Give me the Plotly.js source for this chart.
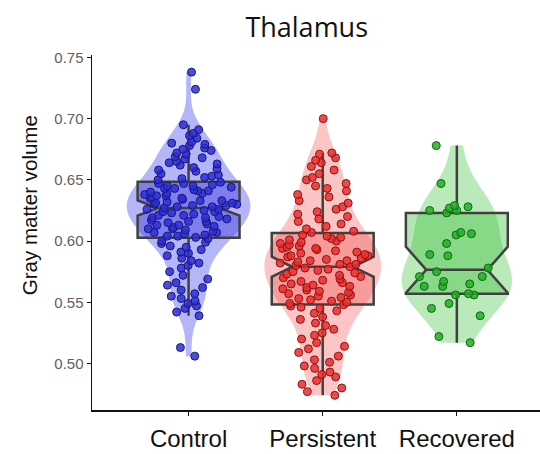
<!DOCTYPE html>
<html>
<head>
<meta charset="utf-8">
<script src="https://cdn.plot.ly/plotly-3.0.1.min.js"></script>
<style>html,body{margin:0;padding:0;background:#fff;}#chart{width:540px;height:454px;}</style>
</head>
<body>
<div id="chart"></div>
<script>
// Categories
const groups = ["Control", "Persistent", "Recovered"];

// Gray matter volume values
const control = [
  0.738, 0.724,
  0.695, 0.691, 0.688, 0.686, 0.684, 0.681, 0.680, 0.679, 0.678, 0.676, 0.675, 0.674, 0.672, 0.671,
  0.669, 0.668, 0.667, 0.665, 0.664, 0.663, 0.662, 0.660, 0.659, 0.658, 0.657, 0.655, 0.654, 0.653,
  0.652, 0.651, 0.650,
  0.648, 0.647, 0.647, 0.646, 0.645, 0.645, 0.644, 0.643, 0.643, 0.642, 0.641, 0.641, 0.640, 0.639,
  0.639, 0.638, 0.637, 0.637, 0.636, 0.635, 0.635, 0.634, 0.633, 0.633, 0.632, 0.631, 0.631, 0.630,
  0.630, 0.629, 0.629, 0.628, 0.628,
  0.627,
  0.626, 0.626, 0.625, 0.624, 0.624, 0.623, 0.622, 0.621, 0.621, 0.620, 0.619, 0.619, 0.618, 0.617,
  0.616, 0.616, 0.615, 0.614, 0.613, 0.613, 0.612, 0.611, 0.610, 0.610, 0.609, 0.608, 0.607, 0.607,
  0.606, 0.605, 0.604, 0.604, 0.603,
  0.602, 0.600, 0.599, 0.598, 0.596, 0.595, 0.593, 0.591, 0.590, 0.588, 0.586, 0.584, 0.582, 0.580,
  0.578, 0.575, 0.572, 0.569, 0.566, 0.564, 0.562, 0.560, 0.557, 0.555, 0.553, 0.551, 0.549, 0.547,
  0.545, 0.542, 0.539,
  0.513, 0.506
];

const persistent = [
  0.700,
  0.672, 0.671, 0.668, 0.666, 0.664, 0.661, 0.658, 0.655, 0.652, 0.650, 0.647, 0.645, 0.643, 0.641,
  0.638, 0.636, 0.633, 0.631, 0.628, 0.626, 0.624, 0.622, 0.620, 0.618, 0.616, 0.614, 0.612, 0.610,
  0.608, 0.607,
  0.605, 0.604, 0.603, 0.602, 0.601, 0.600, 0.599, 0.598, 0.597, 0.596, 0.595, 0.594, 0.594, 0.593,
  0.592, 0.591, 0.590, 0.589, 0.588, 0.588, 0.587, 0.586, 0.585, 0.584, 0.584, 0.583, 0.582, 0.581,
  0.581, 0.580,
  0.579,
  0.578, 0.577, 0.576, 0.575, 0.574, 0.573, 0.572, 0.571, 0.570, 0.569, 0.568, 0.567, 0.566, 0.565,
  0.564, 0.563, 0.562, 0.561, 0.560, 0.559, 0.558, 0.557, 0.556, 0.555, 0.554, 0.553, 0.552, 0.551,
  0.550, 0.549,
  0.548, 0.547, 0.546, 0.545, 0.543, 0.541, 0.538, 0.536, 0.533, 0.531, 0.528, 0.525, 0.523, 0.520,
  0.517, 0.514, 0.512, 0.509, 0.506, 0.503, 0.501, 0.498, 0.496, 0.493, 0.491, 0.489, 0.486, 0.483,
  0.480, 0.477, 0.474
];

const recovered = [
  0.678, 0.647, 0.629, 0.628, 0.627, 0.625, 0.625, 0.623, 0.607, 0.606, 0.605, 0.598, 0.589, 0.588,
  0.578, 0.575, 0.571, 0.571, 0.567, 0.565, 0.563, 0.563, 0.557, 0.556, 0.556, 0.549, 0.545, 0.539,
  0.522, 0.517
];

const yTicks = [0.50, 0.55, 0.60, 0.65, 0.70, 0.75];

const seriesValues = [control, persistent, recovered];
const violinFill = ["rgba(120,120,245,0.55)", "rgba(250,150,150,0.55)", "rgba(130,215,130,0.55)"];
const violinWidth = [0.92, 0.87, 0.82];
const boxFill = ["rgba(60,60,225,0.45)", "rgba(240,90,90,0.40)", "rgba(60,190,60,0.40)"];
const pointColor = ["rgba(45,45,215,0.85)", "rgba(235,45,45,0.85)", "rgba(35,175,35,0.85)"];
const pointLine = ["rgb(25,25,120)", "rgb(140,20,20)", "rgb(20,100,20)"];

const traces = [];
groups.forEach((g, i) => {
  traces.push({
    type: "violin",
    x: seriesValues[i].map(() => g),
    y: seriesValues[i],
    name: g,
    points: false,
    spanmode: "hard",
    box: {visible: false},
    meanline: {visible: false},
    fillcolor: violinFill[i],
    line: {width: 0, color: "rgba(0,0,0,0)"},
    width: violinWidth[i],
    hoverinfo: "skip",
    showlegend: false
  });
});
groups.forEach((g, i) => {
  traces.push({
    type: "box",
    x: seriesValues[i].map(() => g),
    y: seriesValues[i],
    name: g,
    notched: true,
    notchwidth: 0.2,
    boxpoints: "all",
    jitter: 0.95,
    pointpos: 0,
    width: 0.76,
    whiskerwidth: 0,
    fillcolor: boxFill[i],
    line: {color: "#404040", width: 2.5},
    marker: {size: 8, color: pointColor[i], line: {color: pointLine[i], width: 1}},
    showlegend: false
  });
});

const layout = {
  width: 540,
  height: 454,
  margin: {l: 92, r: 0, t: 55, b: 44},
  paper_bgcolor: "#ffffff",
  plot_bgcolor: "#ffffff",
  boxmode: "overlay",
  violinmode: "overlay",
  showlegend: false,
  title: {
    text: "Thalamus",
    font: {family: "Open Sans, sans-serif", size: 27, color: "#111111"},
    x: 0.568, xanchor: "center", y: 0.94, yanchor: "middle"
  },
  xaxis: {
    type: "category",
    categoryarray: groups,
    categoryorder: "array",
    range: [-0.72, 2.62],
    showline: true, linecolor: "#111111", linewidth: 1.5,
    ticks: "outside", ticklen: 4, tickcolor: "#111111",
    ticklabelstandoff: 3,
    showgrid: false, zeroline: false,
    tickfont: {family: "Liberation Sans, Arial, sans-serif", size: 24, color: "#111111"}
  },
  yaxis: {
    range: [0.462, 0.752],
    tickvals: yTicks,
    ticktext: yTicks.map(v => v.toFixed(2)),
    showline: true, linecolor: "#111111", linewidth: 1.5,
    ticks: "outside", ticklen: 4, tickcolor: "#111111",
    showgrid: false, zeroline: false,
    tickfont: {family: "Liberation Sans, Arial, sans-serif", size: 15, color: "#606060"}
  },
  annotations: [{
    text: "Gray matter volume",
    xref: "paper", yref: "paper",
    x: -0.1406, y: 0.577,
    xanchor: "center", yanchor: "middle",
    textangle: -90, showarrow: false,
    font: {family: "Liberation Sans, Arial, sans-serif", size: 20.5, color: "#111111"}
  }]
};

Plotly.newPlot("chart", traces, layout, {displayModeBar: false, staticPlot: true});
</script>
</body>
</html>
